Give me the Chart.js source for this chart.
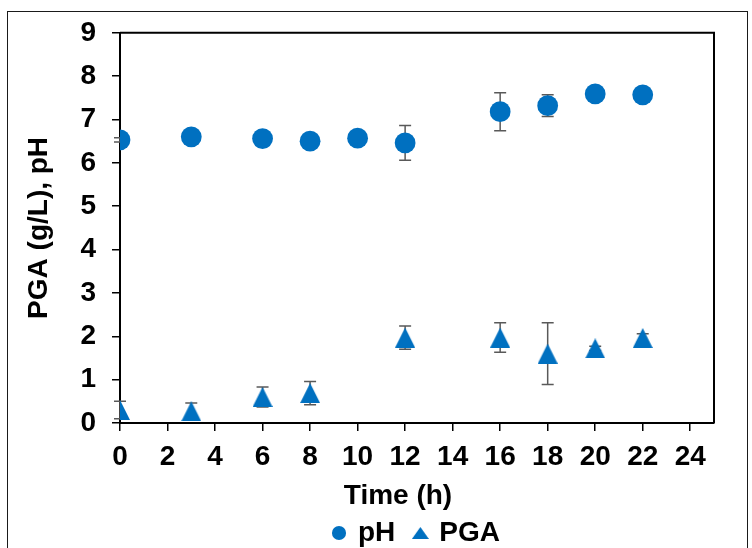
<!DOCTYPE html>
<html>
<head>
<meta charset="utf-8">
<script src="https://cdn.jsdelivr.net/npm/chart.js@4.4.1/dist/chart.umd.min.js"></script>
<style>
  html, body { margin: 0; padding: 0; background: #fff; }
  #wrap { position: relative; width: 752px; height: 548px; overflow: hidden; }
  #frame { position: absolute; left: 7px; top: 11px; width: 739px; height: 600px; border: 1.5px solid #1a1a1a; }
  #chart { position: absolute; left: 0; top: 0; }
</style>
</head>
<body>
<div id="wrap">
  <div id="frame"></div>
  <canvas id="chart" width="752" height="548"></canvas>
</div>
<script>
const phTime = [0, 3, 6, 8, 10, 12, 16, 18, 20, 22];
const phValues = [6.53, 6.60, 6.56, 6.50, 6.57, 6.46, 7.18, 7.32, 7.59, 7.57];
const phErr = [0.05, 0.05, 0.05, 0.05, 0.05, 0.40, 0.44, 0.25, 0.05, 0.05];
const pgaTime = [0, 3, 6, 8, 12, 16, 18, 20, 22];
const pgaValues = [0.30, 0.27, 0.60, 0.69, 1.97, 1.97, 1.60, 1.72, 1.96];
const pgaErr = [0.20, 0.19, 0.23, 0.27, 0.27, 0.34, 0.71, 0.05, 0.10];
const xTicks = [0, 2, 4, 6, 8, 10, 12, 14, 16, 18, 20, 22, 24];

const blue = '#0070C0';
const font = { family: '"Liberation Sans", Arial, sans-serif', size: 28, weight: 'bold' };

// triangle marker, centred on its bounding box like Excel's
function triangle(w, h) {
    const c = document.createElement('canvas');
    c.width = w; c.height = h;
    const g = c.getContext('2d');
    g.fillStyle = blue;
    g.beginPath();
    g.moveTo(w / 2, 0);
    g.lineTo(w, h);
    g.lineTo(0, h);
    g.closePath();
    g.fill();
    return c;
}
const triBig = triangle(20, 20);
const triSmall = triangle(17, 12);

const errorBars = {
    id: 'errorBars',
    beforeDatasetsDraw(chart) {
        const { ctx, scales: { x, y } } = chart;
        ctx.save();
        ctx.strokeStyle = '#595959';
        ctx.lineWidth = 1.5;
        [[phTime, phValues, phErr], [pgaTime, pgaValues, pgaErr]].forEach(([ts, vals, errs]) => {
            vals.forEach((v, i) => {
                const px = x.getPixelForValue(ts[i]);
                const top = y.getPixelForValue(v + errs[i]);
                const bot = y.getPixelForValue(v - errs[i]);
                ctx.beginPath();
                ctx.moveTo(px, top); ctx.lineTo(px, bot);
                ctx.moveTo(px - 6, top); ctx.lineTo(px + 6, top);
                ctx.moveTo(px - 6, bot); ctx.lineTo(px + 6, bot);
                ctx.stroke();
            });
        });
        // top and right edges of the plot box
        const a = chart.chartArea;
        ctx.strokeStyle = '#000';
        ctx.lineWidth = 2;
        ctx.beginPath();
        ctx.moveTo(a.left, a.top); ctx.lineTo(a.right, a.top); ctx.lineTo(a.right, a.bottom);
        ctx.stroke();
        ctx.restore();
    }
};

new Chart(document.getElementById('chart'), {
    type: 'scatter',
    data: {
        datasets: [{
            label: 'pH',
            data: phTime.map((t, i) => ({ x: t, y: phValues[i] })),
            pointStyle: 'circle',
            pointRadius: 10.4,
            pointHoverRadius: 10.4,
            backgroundColor: blue,
            borderColor: blue,
            borderWidth: 0
        }, {
            label: 'PGA',
            data: pgaTime.map((t, i) => ({ x: t, y: pgaValues[i] })),
            pointStyle: triBig,
            pointRadius: 10,
            backgroundColor: blue,
            borderColor: blue,
            borderWidth: 0
        }]
    },
    options: {
        responsive: false,
        animation: false,
        layout: { padding: { left: 8, top: 28, right: 38, bottom: -9 } },
        plugins: {
            tooltip: { enabled: false },
            legend: {
                position: 'bottom',
                fullSize: false,
                labels: {
                    color: '#000',
                    font: font,
                    usePointStyle: true,
                    boxWidth: 10,
                    boxHeight: 10,
                    padding: 20,
                    generateLabels(chart) {
                        return Chart.defaults.plugins.legend.labels.generateLabels(chart).map(item => {
                            if (item.text === 'PGA') item.pointStyle = triSmall;
                            item.lineWidth = 0;
                            return item;
                        });
                    }
                }
            }
        },
        scales: {
            x: {
                type: 'linear',
                min: 0,
                max: 25,
                afterBuildTicks: s => { s.ticks = xTicks.map(v => ({ value: v })); },
                afterFit: s => {
                    s.height = 76;
                    // the axis title sits a little left of the plot centre
                    if (!s._titleShifted) {
                        const orig = s.drawTitle;
                        s.drawTitle = function () {
                            this.ctx.save();
                            this.ctx.translate(-19, 0);
                            orig.call(this);
                            this.ctx.restore();
                        };
                        s._titleShifted = true;
                    }
                },
                grid: { drawOnChartArea: false, drawTicks: true, tickLength: 8, color: '#000', lineWidth: 1.5 },
                border: { color: '#000', width: 2 },
                ticks: { color: '#000', font: font, padding: 9, maxRotation: 0 },
                title: { display: true, text: 'Time (h)', color: '#000', font: font, padding: { top: 0, bottom: -14 } }
            },
            y: {
                min: 0,
                max: 9,
                ticks: { stepSize: 1, color: '#000', font: font, padding: 16 },
                afterFit: s => { s.width = 112; },
                grid: { drawOnChartArea: false, drawTicks: true, tickLength: 8, color: '#000', lineWidth: 1.5 },
                border: { color: '#000', width: 2 },
                title: { display: true, text: 'PGA (g/L), pH', color: '#000', font: font, padding: { top: 14, bottom: 0 } }
            }
        }
    },
    plugins: [errorBars]
});
</script>
</body>
</html>
